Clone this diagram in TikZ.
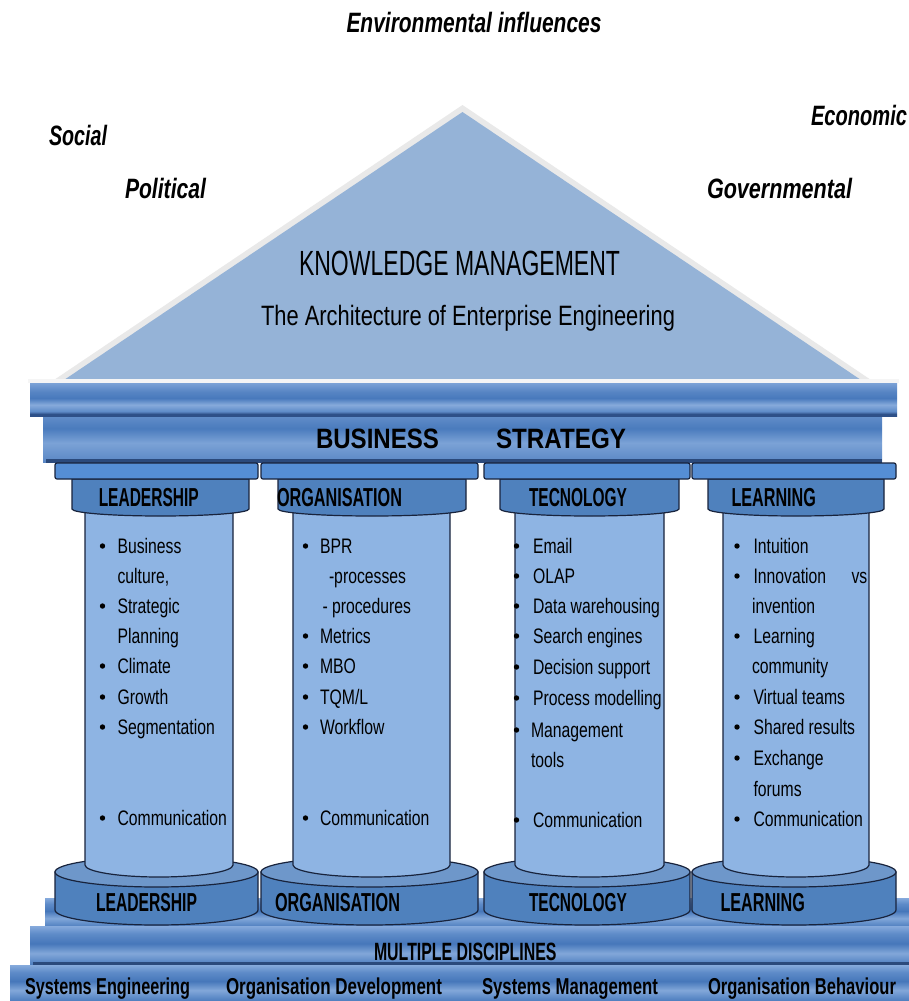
\documentclass[tikz,border=0pt]{standalone}
\usepackage{fontspec}
\setmainfont{Liberation Sans}
\usepackage{graphicx}
\definecolor{pedfill}{HTML}{95B3D7}
\definecolor{pedrim}{HTML}{E9E9E9}
\definecolor{platec}{HTML}{558ED5}
\definecolor{echc}{HTML}{4F81BD}
\definecolor{shaftc}{HTML}{8EB4E3}
\definecolor{basetop}{HTML}{6E97CA}
\definecolor{basec}{HTML}{4F81BD}
\definecolor{edgec}{HTML}{18233C}
\definecolor{barA}{HTML}{86AADC}
\definecolor{barB}{HTML}{5E8BC8}
\definecolor{barC}{HTML}{4677BA}
\definecolor{barD}{HTML}{82A7D9}
\definecolor{barE}{HTML}{5D8AC7}
\definecolor{barF}{HTML}{4D7DBD}
\definecolor{bardark}{HTML}{2B4A7C}
\definecolor{frA}{HTML}{6590CB}
\definecolor{frB}{HTML}{4A7BBD}
\definecolor{frC}{HTML}{7BA2D6}
\definecolor{frD}{HTML}{5A87C5}
\definecolor{coA}{HTML}{7CA2D6}
\definecolor{coB}{HTML}{5785C4}
\definecolor{coC}{HTML}{4879BC}
\definecolor{coD}{HTML}{86AADB}
\definecolor{coE}{HTML}{5E8BC8}
\definecolor{coF}{HTML}{2E5088}
\pgfdeclareverticalshading{barshade}{100bp}{color(0bp)=(barF); color(25bp)=(barF); color(30bp)=(barE); color(40bp)=(barD); color(52.5bp)=(barC); color(65bp)=(barB); color(75bp)=(barA); color(100bp)=(barA)}
\pgfdeclareverticalshading{friezeshade}{100bp}{color(0bp)=(frD); color(25bp)=(frD); color(45bp)=(frC); color(60bp)=(frB); color(75bp)=(frA); color(100bp)=(frA)}
\pgfdeclareverticalshading{cornshade}{100bp}{color(0bp)=(coF); color(25bp)=(coF); color(28bp)=(coF); color(32bp)=(coE); color(42bp)=(coD); color(52bp)=(coC); color(62bp)=(coB); color(75bp)=(coA); color(100bp)=(coA)}
\newcommand\fsz[1]{\fontsize{#1}{#1}\selectfont}
\newcommand\wb[2]{\resizebox{#1pt}{\height}{#2}}
\newcommand\cs[1]{\scalebox{0.75}[1]{#1}}
\begin{document}
\begin{tikzpicture}[x=1pt,y=-1pt,
  txt/.style={inner sep=0pt, outer sep=0pt, anchor=base},
  ct/.style={inner sep=0pt, outer sep=0pt, anchor=base west, font=\fsz{21}},
  infl/.style={txt, font=\fsz{28}\bfseries\itshape},
  lab/.style={txt, font=\fsz{26}\bfseries},
  bot/.style={txt, font=\fsz{23}\bfseries},
  outl/.style={draw=edgec, line width=1.2pt}]
\clip (0,0) rectangle (909,1001);
\fill[white] (0,0) rectangle (909,1001);

% pediment
\fill[pedrim] (462.5,105) -- (874,382) -- (51,382) -- cycle;
\fill[pedfill] (462.5,112) -- (864,382) -- (61,382) -- cycle;

% influences
\node[infl] (env) at (474,32) {\wb{255}{Environmental influences}};
\node[infl] (soc) at (78,145) {\wb{58}{Social}};
\node[infl] (pol) at (165.5,198) {\wb{81}{Political}};
\node[infl, anchor=base west] (eco) at (811,125) {\wb{96}{Economic}};
\node[infl] (gov) at (779.5,198) {\wb{145}{Governmental}};
\node[txt, font=\fsz{35}] (km) at (459.5,275) {\wb{321}{KNOWLEDGE MANAGEMENT}};
\node[txt, font=\fsz{28}] (arch) at (468,325) {\wb{414}{The Architecture of Enterprise Engineering}};

% plinth bars
\shade[shading=barshade] (45,898) rectangle (909,927);
\shade[shading=barshade] (30,926) rectangle (909,965);
\fill[bardark] (33,962) rectangle (909,966);
\shade[shading=barshade] (10,965) rectangle (909,1001);

% bases
\foreach \xa/\xb in {55/258, 261/478, 484/690, 692/896}{
  \pgfmathsetmacro\rx{(\xb-\xa)/2}
  \pgfmathsetmacro\cx{(\xb+\xa)/2}
  \filldraw[fill=basec, outl] (\xa,872) -- (\xa,910) arc[start angle=180, end angle=360, x radius=\rx pt, y radius=15pt] -- (\xb,872) -- cycle;
  \filldraw[fill=basetop, outl] (\cx,872) ellipse [x radius=\rx pt, y radius=15pt];
}

% shafts
\foreach \xa/\xb in {85/233, 293/450, 515/664, 723/869}{
  \pgfmathsetmacro\rx{(\xb-\xa)/2}
  \filldraw[fill=shaftc, outl] (\xa,500) -- (\xa,865) arc[start angle=180, end angle=360, x radius=\rx pt, y radius=12pt] -- (\xb,500) -- cycle;
}

% cornice and frieze
\shade[shading=friezeshade] (43,414) rectangle (882,462);
\fill[bardark] (46,459) rectangle (882,463);
\fill[white!92!gray] (28,379) rectangle (899,383);
\shade[shading=cornshade] (30,383) rectangle (897,416);

% echinus and plates
\foreach \xa/\xb in {72/249, 278/466, 500/679, 708/884}{
  \pgfmathsetmacro\rx{(\xb-\xa)/2}
  \filldraw[fill=echc, outl] (\xa,479) -- (\xa,509) arc[start angle=180, end angle=360, x radius=\rx pt, y radius=7pt] -- (\xb,479) -- cycle;
}
\foreach \xa/\xb in {55/258, 261/478, 484/690, 692/896}{
  \filldraw[fill=platec, outl, rounded corners=2pt] (\xa,463) rectangle (\xb,479);
}

% beam texts
\node[txt, font=\fsz{28}\bfseries] (bus) at (377.5,448) {\wb{123}{BUSINESS}};
\node[txt, font=\fsz{28}\bfseries] (str) at (561,448) {\wb{130}{STRATEGY}};

% capital labels
\node[lab] (c1) at (148.75,506) {\wb{100}{LEADERSHIP}};
\node[lab] (c2) at (339.5,506) {\wb{125}{ORGANISATION}};
\node[lab] (c3) at (578,506) {\wb{98}{TECNOLOGY}};
\node[lab] (c4) at (773.75,506) {\wb{84.5}{LEARNING}};

% base labels
\node[lab] (b1) at (146.5,911) {\wb{101}{LEADERSHIP}};
\node[lab] (b2) at (337.5,911) {\wb{125}{ORGANISATION}};
\node[lab] (b3) at (578,911) {\wb{98}{TECNOLOGY}};
\node[lab] (b4) at (762.75,911) {\wb{84.5}{LEARNING}};

% plinth texts
\node[txt, font=\fsz{25}\bfseries] (md) at (465.25,960) {\wb{182.5}{MULTIPLE DISCIPLINES}};
\node[bot] (d1) at (107.5,994) {\wb{165}{Systems Engineering}};
\node[bot] (d2) at (334,994) {\wb{216}{Organisation Development}};
\node[bot] (d3) at (570,994) {\wb{176}{Systems Management}};
\node[bot] (d4) at (802,994) {\wb{188}{Organisation Behaviour}};

% column 1
\foreach \yy/\tx [count=\k] in {553/Business, 583/{culture,}, 613/Strategic, 643/Planning, 673/Climate, 704/Growth, 734/Segmentation, 825/Communication}
  \node[ct] (pa\k) at (117.6,\yy) {\cs{\tx}};
\foreach \yy in {553,613,673,704,734,825}
  \fill (102.5,\yy-7) circle[radius=2.7pt];

% column 2
\foreach \yy/\tx [count=\k] in {553/BPR, 643/Metrics, 673/MBO, 704/TQM\slash L, 734/Workflow, 825/Communication}
  \node[ct] (pb\k) at (320,\yy) {\cs{\tx}};
\node[ct] (pbp) at (329,583) {\cs{-processes}};
\node[ct] (pbq) at (322.5,613) {\cs{- procedures}};
\foreach \yy in {553,643,673,704,734,825}
  \fill (305.5,\yy-7) circle[radius=2.7pt];

% column 3
\foreach \yy/\tx [count=\k] in {553/Email, 583/OLAP, 613/Data warehousing, 643/Search engines, 674/Decision support, 705/Process modelling, 827/Communication}
  \node[ct] (pc\k) at (533,\yy) {\cs{\tx}};
\node[ct] (pcm) at (531,737) {\cs{Management}};
\node[ct] (pct) at (531,767) {\cs{tools}};
\foreach \yy in {553,583,613,643,674,705,737,827}
  \fill (516.5,\yy-7) circle[radius=2.7pt];

% column 4
\foreach \yy/\tx [count=\k] in {553/Intuition, 583/Innovation, 643/Learning, 704/Virtual teams, 734/Shared results, 765/Exchange, 826/Communication}
  \node[ct] (pd\k) at (753.5,\yy) {\cs{\tx}};
\node[ct] (pdv) at (851.5,583) {\cs{vs}};
\node[ct] (pdi) at (752,613) {\cs{invention}};
\node[ct] (pdc) at (752,673) {\cs{community}};
\node[ct] (pdf) at (753.5,796) {\cs{forums}};
\foreach \yy in {553,583,643,704,734,765,826}
  \fill (737,\yy-7) circle[radius=2.7pt];
\end{tikzpicture}
\end{document}
